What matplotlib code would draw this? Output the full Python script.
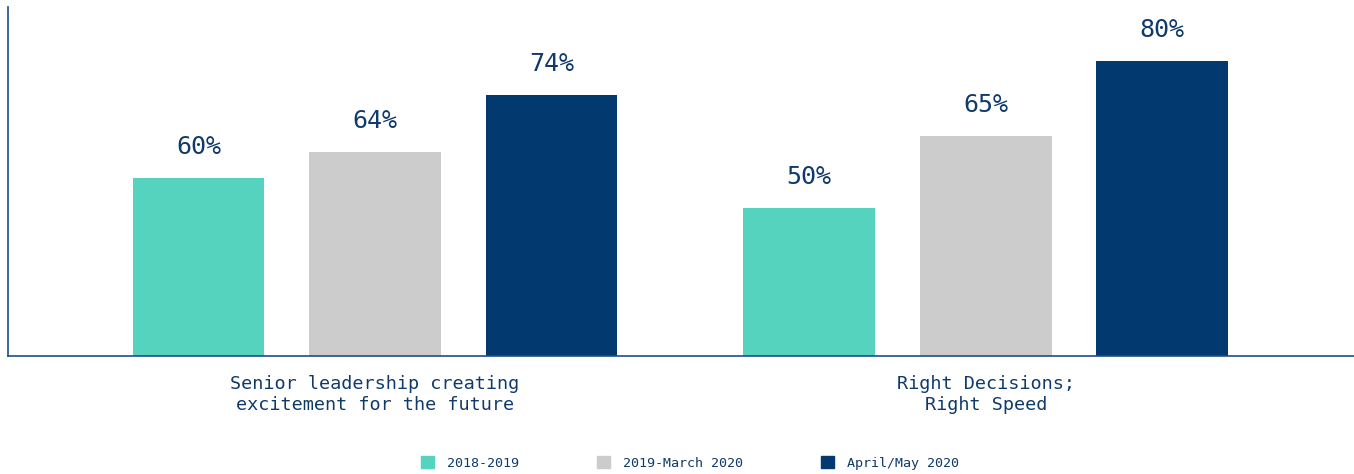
import numpy as np
import matplotlib.pyplot as plt
from matplotlib.patches import Patch

# --- Dados ---
categories = ['Senior leadership creating\nexcitement for the future',
              'Right Decisions;\nRight Speed']
series = ['2018-2019', '2019-March 2020', 'April/May 2020']
# alturas das barras (escala 0-100 do eixo)
bar_heights = [[51.0, 58.5, 74.8],
               [42.4, 63.0, 84.5]]
value_labels = [['60%', '64%', '74%'],
                ['50%', '65%', '80%']]
colors = ['#56d3be', '#cccccc', '#023a70']
text_color = '#0f3a6b'

plt.rcParams['font.family'] = ['DejaVu Sans Mono']

fig = plt.figure(figsize=(13.54, 4.74), dpi=100)
ax = fig.add_axes([8 / 1354, 118 / 474, 1346 / 1354, 349 / 474])

x = np.arange(len(categories))
offset = 0.289
width = 0.216

for j, name in enumerate(series):
    heights = [row[j] for row in bar_heights]
    pos = x + (j - 1) * offset
    ax.bar(pos, heights, width=width, color=colors[j], label=name)
    for p, h, lab in zip(pos, heights, [row[j] for row in value_labels]):
        ax.text(p, h + 5.5, lab, ha='center', va='bottom',
                fontsize=18, color=text_color)

ax.set_xlim(-0.601, 1.603)
ax.set_ylim(0, 100)
ax.set_xticks(x)
ax.set_xticklabels(categories, fontsize=13.3, color=text_color,
                   linespacing=1.15)
ax.tick_params(axis='x', length=0, pad=14)
ax.set_yticks([])
for s in ['top', 'right']:
    ax.spines[s].set_visible(False)
for s in ['left', 'bottom']:
    ax.spines[s].set_color('#1f4e85')
    ax.spines[s].set_linewidth(1.2)

handles = [Patch(color=c) for c in colors]
leg = fig.legend(handles, series, loc='center', bbox_to_anchor=(690 / 1354, 11 / 474),
                 ncol=3, frameon=False, fontsize=9.6, handlelength=1.0,
                 handleheight=1.0, handletextpad=1.0, columnspacing=5.8)
for t in leg.get_texts():
    t.set_color(text_color)

fig.savefig('out.png', dpi=100)
